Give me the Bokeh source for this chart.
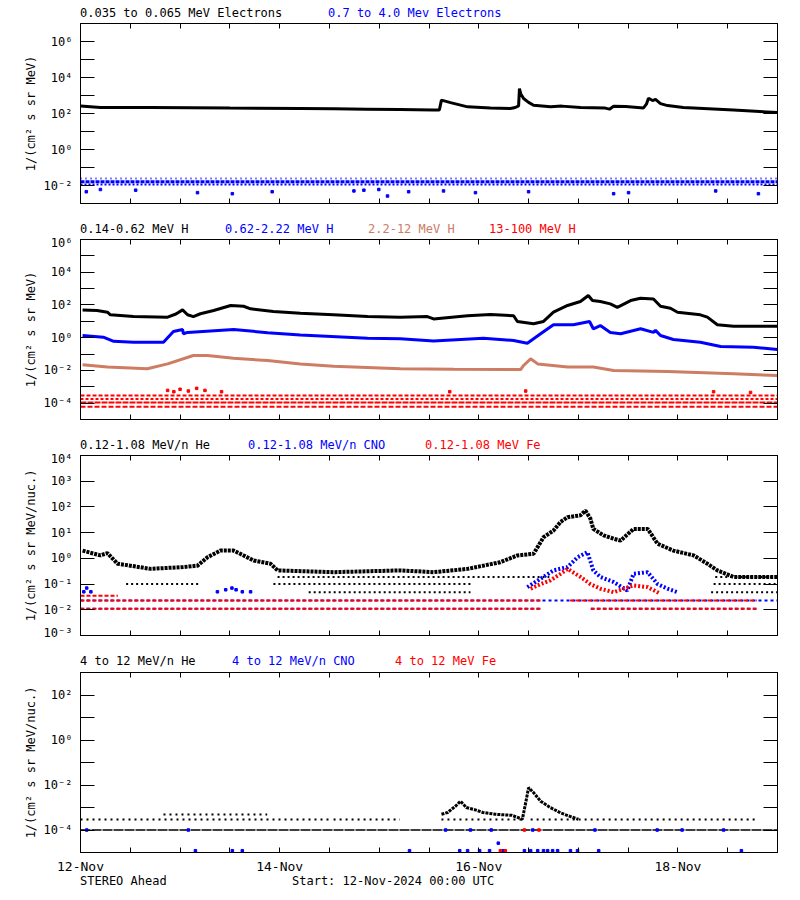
from bokeh.plotting import figure
from bokeh.layouts import column
from bokeh.models import (FixedTicker, LogAxis, LinearAxis, Range1d, Div,
                          CustomJSTickFormatter)
from bokeh.embed import file_html
from bokeh.resources import INLINE

FONT = "DejaVu Sans Mono"
BLACK = "#000000"
BLUE = "#0000ff"
RED = "#ff0000"
BROWN = "#cc7d64"

# time axis: hours since 12-Nov-2024 00:00 UTC
x_ticks = list(range(0, 169, 12))
x_tick_labels = {0: "12-Nov", 48: "14-Nov", 96: "16-Nov", 144: "18-Nov"}

# ---------------- Panel 1 : electrons ----------------
e_low_t = [0, 4.8, 16.9, 36, 53, 61, 69, 77, 85, 86.5, 87, 89.2, 93.3, 98.8, 103.6,
           104.8, 105.6, 105.8, 106.1, 106.8, 108, 109.2, 113.3, 116, 120.5, 126.5,
           127.5, 128.5, 131.4, 135.7, 136.4, 136.9, 137.9, 138.6, 139.8, 141.5,
           145.3, 157.4, 168]
e_low_v = [260, 215, 215, 200, 190, 182, 174, 166, 158, 158, 550, 400, 234, 200, 190,
           215, 263, 2450, 1260, 676, 417, 288, 234, 257, 214, 200,
           174, 251, 245, 204, 331, 708, 525, 603, 355, 275,
           214, 158, 112]
e_high_levels = [0.0245, 0.016, 0.0115]
e_high_out_t = [1.4, 4.8, 13.3, 28.2, 36.6, 46.2, 65.9, 68.3, 71.9, 74.0,
                79.1, 87.5, 95.2, 108.0, 128.5, 132.1, 153.1, 163.4]
e_high_out_v = [0.0045, 0.006, 0.0055, 0.004, 0.0035, 0.0045, 0.005, 0.0055, 0.006, 0.0026,
                0.0045, 0.005, 0.004, 0.0045, 0.0035, 0.004, 0.005, 0.0035]

# ---------------- Panel 2 : protons ----------------
h1_t = [0.5, 4, 6.5, 7.2, 12.8, 21, 23, 24.6, 25.8, 27.2, 28.9, 32.1, 36.2, 39.3, 41,
        46.5, 53, 61, 69.2, 77.1, 83.6, 85.1, 93.3, 98.8, 104.4, 105.3, 109.2, 111.6,
        114, 117.4, 120.5, 122.4, 123.4, 125.3, 127.7, 129.4, 132.6, 135, 138.1,
        139.8, 142.2, 143.9, 149.4, 151.1, 153.5, 157.4, 168]
h1_v = [50, 46, 36, 25, 20, 18, 28, 50, 25, 19.5, 29, 46, 93, 83, 58,
        40, 31, 25, 20, 18, 19.5, 14, 22, 26, 22, 9.8, 7.1, 9.8,
        36, 93, 162, 380, 186, 162, 117, 72, 186, 257, 234,
        83, 63, 36, 25, 18, 6.2, 5.0, 5.0]
h2_t = [0.5, 5.5, 8, 12.8, 20, 22.4, 24.6, 24.8, 25.8, 36.9, 45.1, 53, 69.2, 77.1, 85.1,
        97.1, 104.4, 107.7, 110.9, 114, 118.8, 122.7, 123.6, 125.3, 127.7, 130.2, 135,
        138.1, 138.6, 139.8, 142.9, 149.4, 154.3, 162.2, 168]
h2_v = [1.35, 1.07, 0.60, 0.52, 0.52, 2.4, 3.2, 1.74, 2.1, 3.2, 2.0, 1.48, 0.93, 0.85, 0.63,
        0.93, 0.68, 0.46, 1.74, 6.2, 6.2, 9.8, 3.5, 5.5, 2.1, 1.74, 3.5,
        2.1, 2.8, 1.35, 0.78, 0.52, 0.29, 0.26, 0.19]
h3_t = [0.5, 6.5, 16.1, 21, 27.2, 30.6, 36.9, 45.1, 53, 61, 77.1, 90, 106.1, 106.8,
        108.5, 110.2, 117.4, 123.6, 128.5, 141.5, 157.4, 168]
h3_v = [0.022, 0.016, 0.0126, 0.025, 0.081, 0.081, 0.055, 0.040, 0.025, 0.018, 0.0126,
        0.0117, 0.0112, 0.020, 0.051, 0.025, 0.016, 0.016, 0.0098, 0.0085, 0.0062, 0.0049]
h4_levels = [2.9e-4, 1.8e-4, 1.1e-4, 6e-5]
h4_pts_t = [21, 22.5, 24, 26, 28, 30, 34, 89, 107.3, 152.6, 161.5]
h4_pts_v = [6e-4, 5e-4, 7e-4, 5.5e-4, 8e-4, 6e-4, 5e-4, 5e-4, 5.5e-4, 5e-4, 4.5e-4]

# ---------------- Panel 3 : 0.12-1.08 MeV/n ions ----------------
he_t = [0.5, 4.8, 6.5, 8.9, 16.9, 24.8, 28.2, 30.6, 33.7, 36.9, 39.3, 41.7, 45.8, 47.5,
        61, 77.1, 85.1, 93.3, 101.2, 105.3, 109.2, 111.6, 114, 115.7, 117.4, 120.5,
        121.7, 122.9, 123.6, 126.1, 128.5, 130.2, 133.3, 136.7, 139.1, 142.9, 147.8,
        151.1, 153.5, 157.4, 168]
he_v = [2.0, 1.3, 1.6, 0.62, 0.39, 0.46, 0.52, 1.1, 2.0, 2.0, 1.3, 0.83, 0.62, 0.34,
        0.29, 0.34, 0.29, 0.39, 0.71, 1.3, 1.5, 6.6, 12, 26, 40, 47,
        72, 35, 14, 7.8, 5.8, 4.9, 14, 14, 3.7, 2.0, 1.3,
        0.62, 0.34, 0.19, 0.19]
he_floor_v = [0.19, 0.19, 0.1, 0.1, 0.1, 0.048, 0.048]
he_floor_t0 = [47.5, 153, 11, 46.5, 152.6, 55, 152]
he_floor_t1 = [113, 168, 29, 94, 168, 94, 168]
cno_t = [107.7, 111.6, 114, 117.4, 119.8, 122.2, 123.6, 125.3, 128.5, 131.8, 133.3,
         136.7, 139.1, 141.5, 143.9]
cno_v = [0.076, 0.19, 0.34, 0.46, 1.1, 1.74, 0.34, 0.19, 0.12, 0.056, 0.25,
         0.29, 0.10, 0.066, 0.048]
cno_pts_t = [0.8, 1.5, 2.5, 33, 35, 36.5, 37.5, 39, 41]
cno_pts_v = [0.05, 0.07, 0.05, 0.05, 0.06, 0.07, 0.06, 0.05, 0.05]
cno_floor_v = [0.023, 0.011, 0.011]
cno_floor_t0 = [0, 0, 123]
cno_floor_t1 = [168, 111, 163]
fe_t = [108.5, 110.9, 113.3, 115.7, 117.4, 120.5, 122.9, 125.3, 128.5, 133.3, 136.7, 139.8]
fe_v = [0.066, 0.10, 0.14, 0.25, 0.39, 0.19, 0.10, 0.066, 0.048, 0.089, 0.076, 0.042]
fe_floor_v = [0.011, 0.011, 0.023, 0.023, 0.035]
fe_floor_t0 = [0, 123, 0, 118, 0]
fe_floor_t1 = [111, 163, 111, 163, 9]

# ---------------- Panel 4 : 4-12 MeV/n ions ----------------
he4_base = 1e-4
he4_level_v = [2.9e-4, 2.9e-4, 2.9e-4, 2.9e-4, 4.9e-4]
he4_level_t0 = [0, 61, 87, 108.5, 20]
he4_level_t1 = [60, 77, 107, 163, 45]
he4_t = [87, 88.5, 90.5, 91.6, 93, 95, 97, 100, 104, 106.5, 107.3, 108, 109.2, 110.9,
         113.3, 115.7, 118, 120]
he4_v = [5e-4, 6e-4, 1.2e-3, 1.9e-3, 1e-3, 8e-4, 6e-4, 5e-4, 4.5e-4, 3e-4, 1.6e-3, 7.6e-3,
         4.6e-3, 1.9e-3, 9.8e-4, 5.8e-4, 4e-4, 3e-4]
cno4_t = [27.7, 36.6, 39, 79.3, 91.4, 93.3, 96.2, 98.6, 100.7, 101.9, 107, 108.5, 110.2,
          111.6, 112.6, 113.8, 115, 118.1, 119.8, 124.9, 159.3,
          1.5, 26, 88, 94, 99, 109, 124, 139, 145, 155]
cno4_v = [1.2e-5, 1.2e-5, 1.2e-5, 1.2e-5, 1.2e-5, 1.2e-5, 1.2e-5, 1.2e-5, 2.6e-5, 1.2e-5,
          1.2e-5, 1.2e-5, 1.2e-5, 1.2e-5, 1.2e-5, 1.2e-5, 1.2e-5, 1.2e-5, 1.2e-5, 1.2e-5,
          1.2e-5, 1e-4, 1e-4, 1e-4, 1e-4, 1e-4, 1e-4, 1e-4, 1e-4, 1e-4, 1e-4]
fe4_t = [101.2, 102.4, 107, 110.5]
fe4_v = [1.2e-5, 1.2e-5, 1e-4, 1e-4]

# panel headings: (text, colour, left px)
head1 = [("0.035 to 0.065 MeV Electrons", BLACK, 80), ("0.7 to 4.0 Mev Electrons", BLUE, 328)]
head2 = [("0.14-0.62 MeV H", BLACK, 80), ("0.62-2.22 MeV H", BLUE, 225),
         ("2.2-12 MeV H", BROWN, 368), ("13-100 MeV H", RED, 489)]
head3 = [("0.12-1.08 MeV/n He", BLACK, 80), ("0.12-1.08 MeV/n CNO", BLUE, 248),
         ("0.12-1.08 MeV Fe", RED, 425)]
head4 = [("4 to 12 MeV/n He", BLACK, 80), ("4 to 12 MeV/n CNO", BLUE, 232),
         ("4 to 12 MeV Fe", RED, 395)]
foot = [("STEREO Ahead", BLACK, 80), ("Start: 12-Nov-2024 00:00 UTC", BLACK, 292)]

SUP_JS = """
const e = Math.round(Math.log10(tick));
const m = {"-": "\u207b", "0": "\u2070", "1": "\u00b9", "2": "\u00b2", "3": "\u00b3",
           "4": "\u2074", "5": "\u2075", "6": "\u2076", "7": "\u2077", "8": "\u2078", "9": "\u2079"};
return "10" + String(e).split("").map((c) => m[c]).join("");
"""

W = 792


def text_row(items, height, top):
    spans = "".join(
        f'<span style="position:absolute;left:{x}px;top:{top}px;color:{c};'
        f'white-space:pre;line-height:10px;">{t}</span>' for t, c, x in items)
    html = (f'<div style="position:relative;width:{W}px;height:{height}px;'
            f"font-family:'{FONT}';font-size:12px;\">{spans}</div>")
    return Div(text=html, width=W, height=height, margin=(0, 0, 0, 0))


def hide_labels(ax):
    ax.major_label_text_font_size = "1px"
    ax.major_label_text_color = None
    ax.major_label_standoff = 0


def make_panel(height, bottom, y0, y1, major, minor, ylabel, show_x):
    p = figure(width=W, height=height, x_range=Range1d(0, 168), y_range=Range1d(y0, y1),
               y_axis_type="log", output_backend="svg", toolbar_location=None,
               min_border_left=80, min_border_right=15, min_border_top=4,
               min_border_bottom=bottom, margin=(0, 0, 0, 0))
    p.grid.visible = False
    p.outline_line_color = BLACK
    p.background_fill_color = "white"
    p.border_fill_color = "white"

    xt = FixedTicker(ticks=x_ticks)
    yt = FixedTicker(ticks=major, minor_ticks=minor)

    xa = p.xaxis[0]
    xa.ticker = xt
    xa.major_tick_in = 5
    xa.major_tick_out = 0
    xa.minor_tick_in = 0
    xa.minor_tick_out = 0
    xa.axis_line_color = BLACK
    xa.major_tick_line_color = BLACK
    if show_x:
        xa.major_label_overrides = {t: x_tick_labels.get(t, " ") for t in x_ticks}
        xa.major_label_text_font = FONT
        xa.major_label_text_font_size = "13px"
        xa.major_label_standoff = 6
        xa.major_label_text_color = BLACK
    else:
        hide_labels(xa)

    ya = p.yaxis[0]
    ya.ticker = yt
    ya.formatter = CustomJSTickFormatter(code=SUP_JS)
    ya.major_tick_in = 14
    ya.major_tick_out = 0
    ya.minor_tick_in = 14
    ya.minor_tick_out = 0
    ya.major_label_text_font = FONT
    ya.major_label_text_font_size = "12px"
    ya.major_label_text_color = BLACK
    ya.major_label_standoff = 8
    ya.axis_label = ylabel
    ya.axis_label_text_font = FONT
    ya.axis_label_text_font_size = "12px"
    ya.axis_label_text_font_style = "normal"
    ya.axis_label_text_color = BLACK
    ya.axis_label_standoff = 3

    ra = LogAxis(ticker=yt, major_tick_in=14, major_tick_out=0, minor_tick_in=14,
                 minor_tick_out=0)
    hide_labels(ra)
    p.add_layout(ra, "right")
    ta = LinearAxis(ticker=xt, major_tick_in=5, major_tick_out=0, minor_tick_in=0,
                    minor_tick_out=0)
    hide_labels(ta)
    p.add_layout(ta, "above")
    return p


def levels(p, t0, t1, v, color, dash, width=2):
    p.segment(x0=t0, y0=v, x1=t1, y1=v, line_color=color, line_width=width, line_dash=dash)


# ---- Panel 1
p1 = make_panel(188, 4, 1e-3, 1e7, [1e-2, 1, 1e2, 1e4, 1e6], [1e-1, 10, 1e3, 1e5],
                "1/(cm\u00b2 s sr MeV)", False)
levels(p1, [0], [168], [e_high_levels[0]], BLUE, "1 4", 2)
levels(p1, [0], [168], [e_high_levels[1]], BLUE, "4 1", 3)
levels(p1, [0], [168], [e_high_levels[2]], BLUE, "2 2", 2)
p1.scatter(e_high_out_t, e_high_out_v, marker="square", size=2.5, color=BLUE)
p1.line(e_low_t, e_low_v, line_width=3, line_color=BLACK)

# ---- Panel 2
p2 = make_panel(188, 4, 1e-5, 1e6, [1e-4, 1e-2, 1, 1e2, 1e4, 1e6],
                [1e-3, 1e-1, 10, 1e3, 1e5], "1/(cm\u00b2 s sr MeV)", False)
dashes = ["4 2", "3 2", "6 1", "5 2"]
for lv, ds in zip(h4_levels, dashes):
    levels(p2, [0], [168], [lv], RED, ds, 2)
p2.scatter(h4_pts_t, h4_pts_v, marker="square", size=2.5, color=RED)
p2.line(h3_t, h3_v, line_width=3, line_color=BROWN)
p2.line(h2_t, h2_v, line_width=3, line_color=BLUE)
p2.line(h1_t, h1_v, line_width=3, line_color=BLACK)

# ---- Panel 3
p3 = make_panel(188, 4, 1e-3, 1e4, [1e-3, 1e-2, 1e-1, 1, 10, 1e2, 1e3, 1e4], [],
                "1/(cm\u00b2 s sr MeV/nuc.)", False)
levels(p3, he_floor_t0, he_floor_t1, he_floor_v, BLACK, "2 3", 2)
levels(p3, cno_floor_t0, cno_floor_t1, cno_floor_v, BLUE, "3 3", 2)
levels(p3, fe_floor_t0, fe_floor_t1, fe_floor_v, RED, "4 2", 2)
p3.line(he_t, he_v, line_width=4, line_color=BLACK, line_dash="3 1")
p3.line(cno_t, cno_v, line_width=4, line_color=BLUE, line_dash="2 2")
p3.scatter(cno_pts_t, cno_pts_v, marker="square", size=2.5, color=BLUE)
p3.line(fe_t, fe_v, line_width=4, line_color=RED, line_dash="2 2")

# ---- Panel 4
p4 = make_panel(208, 24, 1e-5, 1e3, [1e-4, 1e-2, 1, 1e2], [1e-3, 1e-1, 10],
                "1/(cm\u00b2 s sr MeV/nuc.)", True)
levels(p4, [0], [168], [he4_base], BLACK, "10 1", 1.5)
levels(p4, he4_level_t0, he4_level_t1, he4_level_v, BLACK, "2 4", 2)
p4.line(he4_t, he4_v, line_width=3, line_color=BLACK, line_dash="3 1")
p4.scatter(cno4_t, cno4_v, marker="square", size=2.5, color=BLUE)
p4.scatter(fe4_t, fe4_v, marker="square", size=2.5, color=RED)

layout = column(
    text_row(head1, 19, 8), p1,
    text_row(head2, 28, 17), p2,
    text_row(head3, 28, 17), p3,
    text_row(head4, 29, 17), p4,
    text_row(foot, 20, 0),
    spacing=0)
open("out.html", "w").write(file_html(layout, INLINE))
